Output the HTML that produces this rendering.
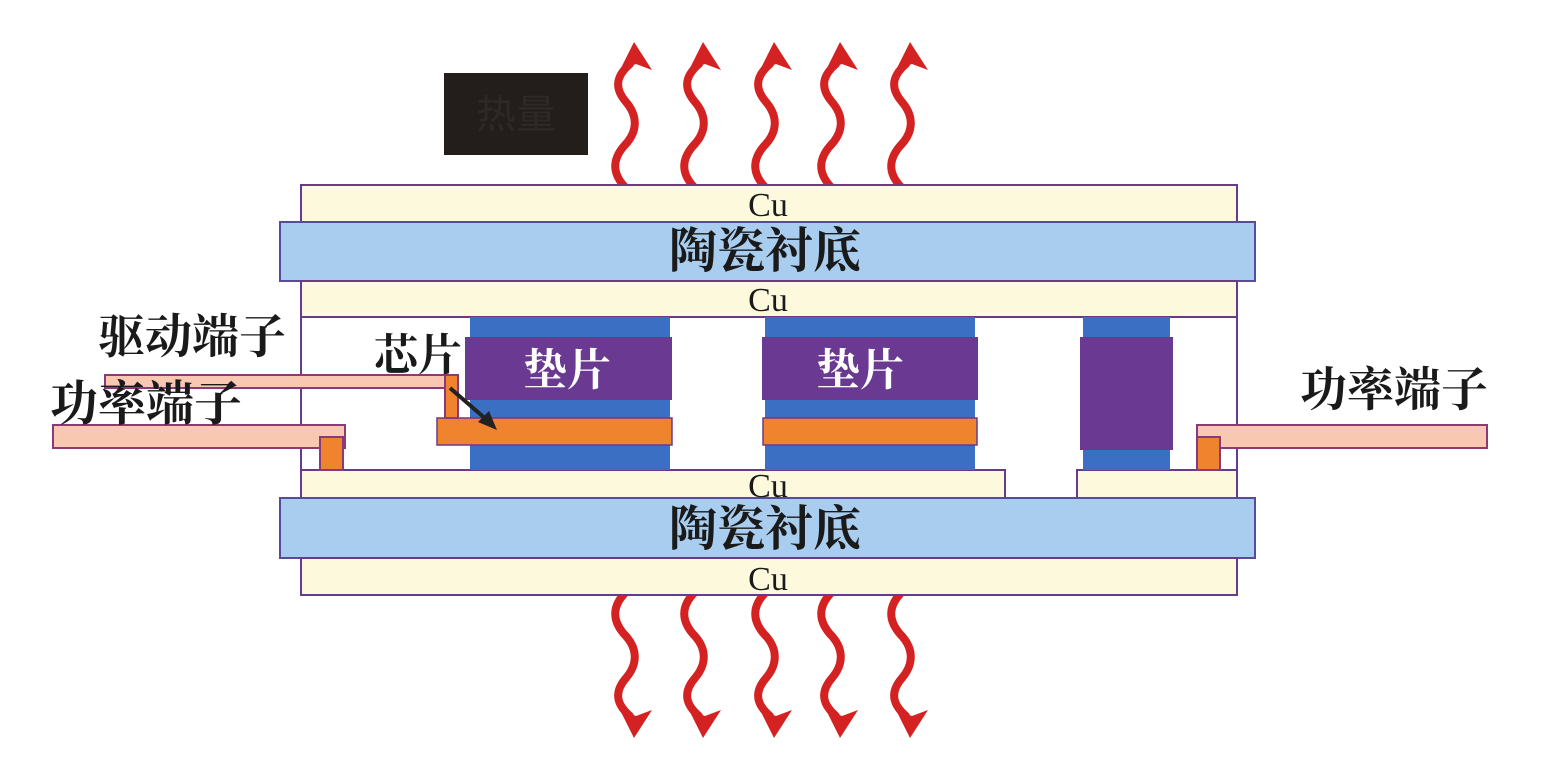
<!DOCTYPE html>
<html><head><meta charset="utf-8"><style>html,body{margin:0;padding:0;background:#fff}svg{display:block}</style></head>
<body>
<svg width="1549" height="772" viewBox="0 0 1549 772" xmlns="http://www.w3.org/2000/svg">
<defs>
<g id="wave">
<path d="M0,0 C-14,-14 -14,-28 -2,-42 C12,-56 12,-72 0,-86 C-12,-100 -10,-112 4,-124" fill="none" stroke="#d42222" stroke-width="8" stroke-linecap="round"/>
<polygon points="-6,-118 8,-146 26,-118 10,-124" fill="#d42222"/>
</g>
</defs>
<rect x="444" y="73" width="144" height="82" fill="#231d1c"/>
<text x="516" y="128" font-family="Liberation Sans, Noto Sans CJK SC, sans-serif" font-size="40" fill="#2e2826" text-anchor="middle">热量</text>
<g transform="translate(626,188)"><use href="#wave"/></g>
<g transform="translate(695,188)"><use href="#wave"/></g>
<g transform="translate(766,188)"><use href="#wave"/></g>
<g transform="translate(832,188)"><use href="#wave"/></g>
<g transform="translate(902,188)"><use href="#wave"/></g>
<g transform="translate(626,592) scale(1,-1)"><use href="#wave"/></g>
<g transform="translate(695,592) scale(1,-1)"><use href="#wave"/></g>
<g transform="translate(766,592) scale(1,-1)"><use href="#wave"/></g>
<g transform="translate(832,592) scale(1,-1)"><use href="#wave"/></g>
<g transform="translate(902,592) scale(1,-1)"><use href="#wave"/></g>
<g stroke="#6a3a8a" stroke-width="2">
<line x1="301" y1="317" x2="301" y2="498"/>
<line x1="1237" y1="317" x2="1237" y2="498"/>
<rect x="301" y="185" width="936" height="37" fill="#fdf9dc"/>
<rect x="280" y="222" width="975" height="59" fill="#a9cdef" stroke="#5a4a9a"/>
<rect x="301" y="281" width="936" height="36" fill="#fdf9dc"/>
<rect x="301" y="470" width="704" height="28" fill="#fdf9dc"/>
<rect x="1077" y="470" width="160" height="28" fill="#fdf9dc"/>
<rect x="280" y="498" width="975" height="60" fill="#a9cdef" stroke="#5a4a9a"/>
<rect x="301" y="558" width="936" height="37" fill="#fdf9dc"/>
</g>
<rect x="470" y="317" width="200" height="153" fill="#3b6fc4"/>
<rect x="465" y="337" width="207" height="63" fill="#6a3a92"/>
<rect x="437" y="418" width="235" height="27" fill="#f0832e" stroke="#6a3a8a" stroke-width="1.5"/>
<rect x="765" y="317" width="210" height="153" fill="#3b6fc4"/>
<rect x="762" y="337" width="216" height="63" fill="#6a3a92"/>
<rect x="763" y="418" width="214" height="27" fill="#f0832e" stroke="#6a3a8a" stroke-width="1.5"/>
<rect x="1083" y="317" width="87" height="153" fill="#3b6fc4"/>
<rect x="1080" y="337" width="93" height="113" fill="#6a3a92"/>
<g stroke="#8a3a7a" stroke-width="2">
<rect x="53" y="425" width="292" height="23" fill="#f9c8b2"/>
<rect x="320" y="437" width="23" height="33" fill="#f0832e"/>
<rect x="105" y="375" width="351" height="13" fill="#f9c8b2"/>
<rect x="445" y="375" width="13" height="43" fill="#f0832e"/>
<rect x="1197" y="425" width="290" height="23" fill="#f9c8b2"/>
<rect x="1197" y="437" width="23" height="33" fill="#f0832e"/>
</g>
<line x1="450" y1="388" x2="487" y2="420" stroke="#222" stroke-width="4"/>
<polygon points="497,430 478,422 489,411" fill="#222"/>
<g font-family="Liberation Serif, Noto Serif CJK SC, serif" fill="#1a1a1a" font-weight="bold">
<text x="98" y="353" font-size="47">驱动端子</text>
<text x="50" y="420" font-size="48">功率端子</text>
<text x="1300" y="406" font-size="47">功率端子</text>
<text x="374" y="370" font-size="44">芯片</text>
<text x="765" y="267" font-size="48" text-anchor="middle">陶瓷衬底</text>
<text x="765" y="545" font-size="48" text-anchor="middle">陶瓷衬底</text>
<text x="768" y="216" font-size="34" text-anchor="middle" font-weight="normal">Cu</text>
<text x="768" y="311" font-size="34" text-anchor="middle" font-weight="normal">Cu</text>
<text x="768" y="497" font-size="34" text-anchor="middle" font-weight="normal">Cu</text>
<text x="768" y="590" font-size="34" text-anchor="middle" font-weight="normal">Cu</text>
<text x="567" y="385" font-size="44" fill="#fff" text-anchor="middle">垫片</text>
<text x="860" y="385" font-size="44" fill="#fff" text-anchor="middle">垫片</text>
</g>
</svg>
</body></html>
